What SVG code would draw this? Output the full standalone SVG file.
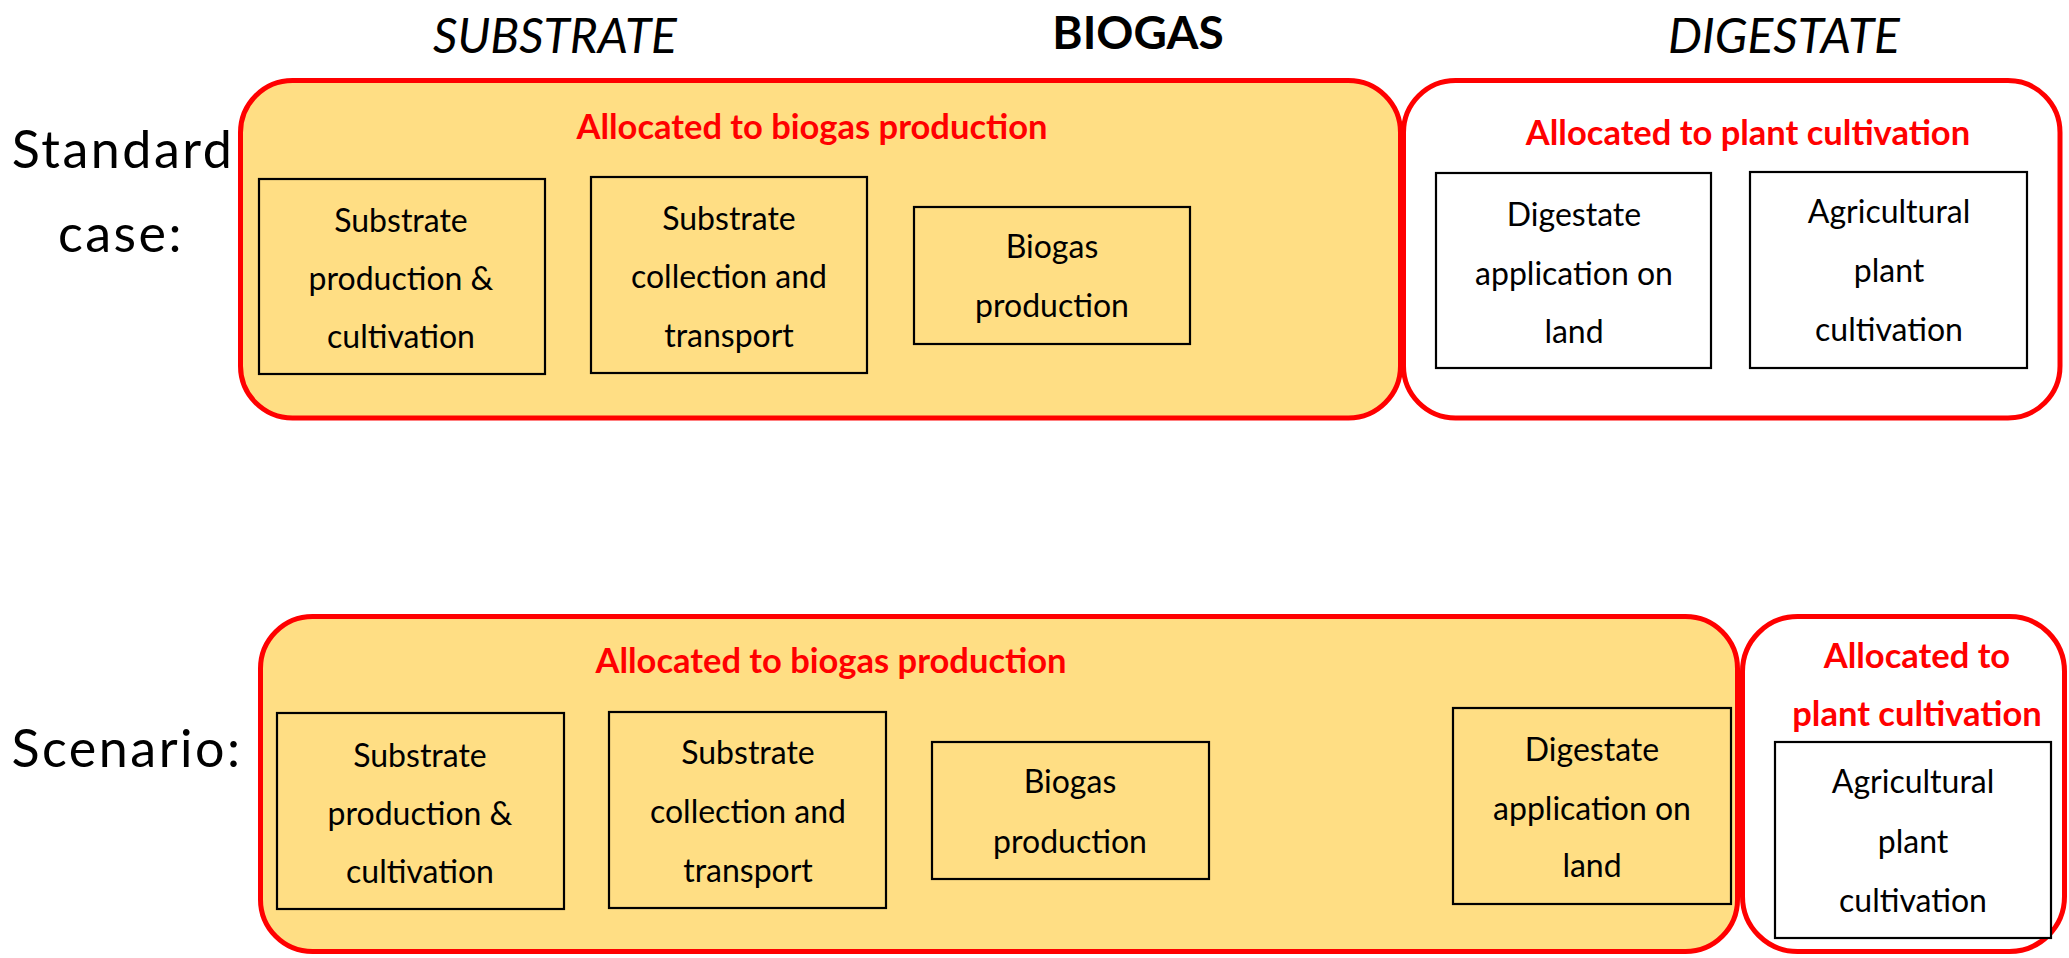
<svg xmlns="http://www.w3.org/2000/svg" width="2069" height="958" viewBox="0 0 2069 958">
  <style>
    .zone { stroke: #FF0000; stroke-width: 5; }
    .zone-bio { fill: #FFDE84; }
    .zone-plant { fill: #FFFFFF; }
    .step { stroke: #000000; stroke-width: 2.2; }
    .step-bio { fill: #FFDE84; }
    .step-plant { fill: #FFFFFF; }
    text { font-family: Lato, "Open Sans", "Liberation Sans", sans-serif; fill: #000000; text-anchor: middle; }
    .step-text { font-size: 32px; }
    .alloc { font-size: 34.5px; font-weight: bold; fill: #FF0000; }
    .head { font-size: 48px; }
    .head-it { font-style: italic; }
    .head-b { font-size: 46px; font-weight: bold; }
    .row-label { font-size: 52px; letter-spacing: 2.5px; }
  </style>

  <!-- column headings -->
  <g id="headings">
    <text class="head head-it" x="555" y="53">SUBSTRATE</text>
    <text class="head head-b" x="1138" y="49">BIOGAS</text>
    <text class="head head-it" x="1784" y="53">DIGESTATE</text>
  </g>

  <!-- row labels -->
  <g id="label-standard">
    <text class="row-label" x="123" y="168">Standard</text>
    <text class="row-label" x="121" y="252">case:</text>
  </g>
  <g id="label-scenario">
    <text class="row-label" x="127" y="767">Scenario:</text>
  </g>

  <!-- standard case: allocation zones -->
  <g id="std-zone-biogas">
    <rect class="zone zone-bio" x="240.5" y="80.5" width="1160" height="337.5" rx="52" ry="52"/>
    <text class="alloc" x="812" y="139">Allocated to biogas production</text>
  </g>
  <g id="std-zone-plant">
    <rect class="zone zone-plant" x="1403.5" y="80.5" width="656.5" height="337.5" rx="52" ry="52"/>
    <text class="alloc" x="1748" y="145">Allocated to plant cultivation</text>
  </g>

  <!-- standard case: process steps -->
  <g id="std-substrate-production">
    <rect class="step step-bio" x="259" y="179" width="286" height="195"/>
    <text class="step-text" x="401" y="232">Substrate</text>
    <text class="step-text" x="401" y="290">production &amp;</text>
    <text class="step-text" x="401" y="348">cultivation</text>
  </g>
  <g id="std-substrate-collection">
    <rect class="step step-bio" x="591" y="177" width="276" height="196"/>
    <text class="step-text" x="729" y="230">Substrate</text>
    <text class="step-text" x="729" y="288">collection and</text>
    <text class="step-text" x="729" y="347">transport</text>
  </g>
  <g id="std-biogas-production">
    <rect class="step step-bio" x="914" y="207" width="276" height="137"/>
    <text class="step-text" x="1052" y="258">Biogas</text>
    <text class="step-text" x="1052" y="317">production</text>
  </g>
  <g id="std-digestate-application">
    <rect class="step step-plant" x="1436" y="173" width="275" height="195"/>
    <text class="step-text" x="1574" y="226">Digestate</text>
    <text class="step-text" x="1574" y="285">application on</text>
    <text class="step-text" x="1574" y="343">land</text>
  </g>
  <g id="std-plant-cultivation">
    <rect class="step step-plant" x="1750" y="172" width="277" height="196"/>
    <text class="step-text" x="1889" y="223">Agricultural</text>
    <text class="step-text" x="1889" y="282">plant</text>
    <text class="step-text" x="1889" y="341">cultivation</text>
  </g>

  <!-- scenario: allocation zones -->
  <g id="scn-zone-biogas">
    <rect class="zone zone-bio" x="260.5" y="616.5" width="1477" height="335" rx="52" ry="52"/>
    <text class="alloc" x="831" y="673">Allocated to biogas production</text>
  </g>
  <g id="scn-zone-plant">
    <rect class="zone zone-plant" x="1742.5" y="616.5" width="322" height="335" rx="55" ry="55"/>
    <text class="alloc" x="1917" y="668">Allocated to</text>
    <text class="alloc" x="1917" y="726">plant cultivation</text>
  </g>

  <!-- scenario: process steps -->
  <g id="scn-substrate-production">
    <rect class="step step-bio" x="277" y="713" width="287" height="196"/>
    <text class="step-text" x="420" y="767">Substrate</text>
    <text class="step-text" x="420" y="825">production &amp;</text>
    <text class="step-text" x="420" y="883">cultivation</text>
  </g>
  <g id="scn-substrate-collection">
    <rect class="step step-bio" x="609" y="712" width="277" height="196"/>
    <text class="step-text" x="748" y="764">Substrate</text>
    <text class="step-text" x="748" y="823">collection and</text>
    <text class="step-text" x="748" y="882">transport</text>
  </g>
  <g id="scn-biogas-production">
    <rect class="step step-bio" x="932" y="742" width="277" height="137"/>
    <text class="step-text" x="1070" y="793">Biogas</text>
    <text class="step-text" x="1070" y="853">production</text>
  </g>
  <g id="scn-digestate-application">
    <rect class="step step-bio" x="1453" y="708" width="278" height="196"/>
    <text class="step-text" x="1592" y="761">Digestate</text>
    <text class="step-text" x="1592" y="820">application on</text>
    <text class="step-text" x="1592" y="877">land</text>
  </g>
  <g id="scn-plant-cultivation">
    <rect class="step step-plant" x="1775" y="742" width="276" height="196"/>
    <text class="step-text" x="1913" y="793">Agricultural</text>
    <text class="step-text" x="1913" y="853">plant</text>
    <text class="step-text" x="1913" y="912">cultivation</text>
  </g>

  <!-- no connectors are drawn between the steps -->
  <g id="connectors"/>
</svg>
